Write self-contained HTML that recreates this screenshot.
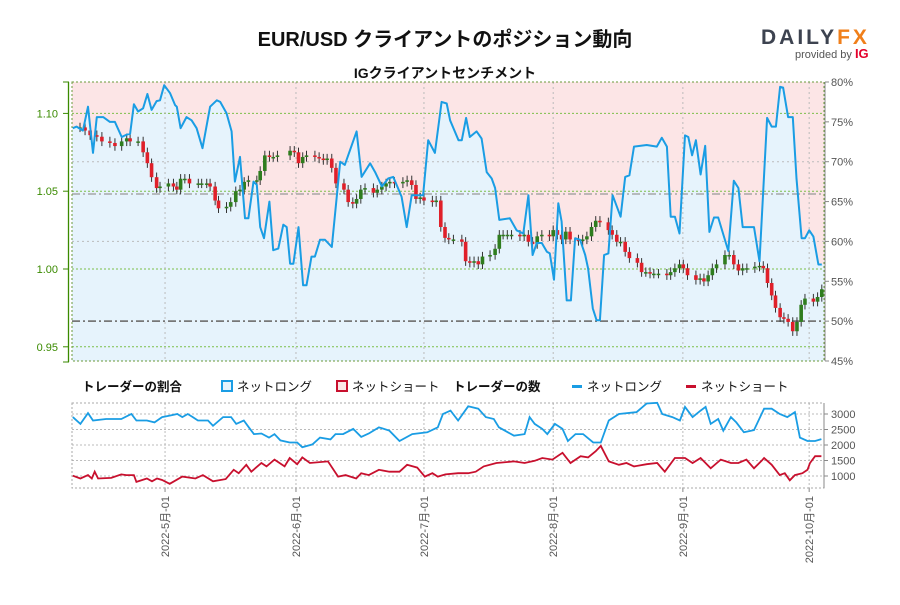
<!DOCTYPE html>
<html><head><meta charset="utf-8">
<style>
body{margin:0;background:#fff;width:900px;height:600px;overflow:hidden;font-family:"Liberation Sans","Noto Sans CJK JP",sans-serif;}
svg text{font-family:"Liberation Sans","Noto Sans CJK JP",sans-serif;}
</style></head>
<body>
<svg id="chart" width="900" height="600" xmlns="http://www.w3.org/2000/svg">
<text x="445" y="46" text-anchor="middle" font-size="20" font-weight="bold" fill="#111">EUR/USD クライアントのポジション動向</text>
<text x="445" y="78" text-anchor="middle" font-size="14" font-weight="bold" fill="#111">IGクライアントセンチメント</text>
<g>
<text x="761" y="44" font-size="21" font-weight="bold" fill="#3d4350" letter-spacing="3">DAILY<tspan fill="#f07f1a">FX</tspan></text>
<text x="795" y="58" font-size="11" fill="#555">provided by <tspan fill="#e4002b" font-weight="bold" font-size="13">IG</tspan></text>
</g>
<g id="main"></g>
<g id="legend" font-size="12.5" fill="#111">
<text x="82" y="391" font-weight="bold">トレーダーの割合</text>
<rect x="222" y="381" width="10" height="10" fill="#e6f3fc" stroke="#1a9de4" stroke-width="2"/>
<text x="237" y="391">ネットロング</text>
<rect x="337" y="381" width="10" height="10" fill="#fbe6e6" stroke="#c8102e" stroke-width="2"/>
<text x="352" y="391">ネットショート</text>
<text x="453" y="391" font-weight="bold">トレーダーの数</text>
<rect x="572" y="385" width="10" height="3" fill="#1a9de4"/>
<text x="587" y="391">ネットロング</text>
<rect x="686" y="385" width="10" height="3" fill="#c8102e"/>
<text x="701" y="391">ネットショート</text>
</g>
<g id="bottom"></g>
</svg>
<script>
// ---- data ----
const sentDays=[0.2,1.1,2.6,3.8,5.0,5.9,7.4,9.0,10.2,11.8,13.0,13.8,14.7,15.7,16.9,17.9,18.9,20.1,20.9,21.9,23.3,24.5,24.9,25.8,27.2,28.4,29.6,31.0,32.8,34.4,35.2,36.7,37.9,38.7,39.9,41.1,41.9,43.1,43.9,44.7,45.6,46.9,47.8,49.0,50.2,51.0,51.8,52.6,53.8,54.9,55.7,56.9,57.7,58.9,60.1,61.7,63.7,64.8,67.6,68.8,70.8,72.0,73.6,75.1,76.3,77.1,78.3,79.5,80.7,82.3,83.4,84.6,86.2,87.8,89.0,89.8,91.8,92.6,93.6,94.5,96.1,97.3,98.5,99.7,100.5,101.5,104.0,105.6,107.2,108.4,109.4,110.4,111.6,112.8,113.5,114.5,115.5,116.3,117.5,118.5,119.5,120.7,121.9,122.6,123.7,124.6,125.4,126.4,127.4,128.4,130.3,131.4,132.4,133.5,136.5,138.9,140.1,141.3,142.2,143.2,144.3,145.6,146.4,147.3,148.2,149.3,150.4,151.4,152.5,153.5,155.9,157.2,158.3,159.3,162.0,163.3,165.1,166.2,167.2,168.2,168.9,170.1,171.2,172.1,173.3,174.1,175.1,176.1,177.3,178.1];
const sentLong=[74.2,74.4,73.9,76.9,71.1,75.6,75.6,75.0,75.0,73.1,73.4,73.5,77.2,76.3,76.7,78.5,76.5,77.6,77.7,79.6,78.6,77.1,76.9,74.2,75.6,75.2,74.2,71.7,76.9,77.7,77.5,76.1,73.8,67.5,70.6,62.9,62.9,67.5,67.1,61.8,60.4,65.0,58.9,59.1,62.1,61.8,57.2,57.2,61.8,54.5,54.5,58.1,58.1,60.2,60.2,59.3,70.0,69.6,73.8,68.1,69.8,68.7,66.9,67.9,68.1,67.1,65.6,61.8,65.8,65.8,65.8,72.7,71.1,77.5,77.3,75.2,72.7,72.7,75.5,73.1,73.8,72.9,68.7,67.9,66.7,62.7,62.9,61.4,61.0,65.8,58.3,59.8,59.8,58.7,58.5,55.2,64.8,62.5,52.6,52.6,60.4,60.2,58.3,56.6,51.6,50.1,50.1,58.3,58.5,65.8,63.1,68.1,68.3,71.9,72.1,71.9,73.0,71.9,63.1,63.1,61.0,73.3,73.1,70.8,72.7,68.4,72.0,61.2,63.0,63.0,58.8,67.6,66.7,61.8,61.8,57.5,75.5,74.4,74.4,79.4,79.3,75.6,75.6,67.9,60.4,60.4,61.4,60.6,57.1,57.1];
const candleDays=[1.9,3.1,4.3,5.9,7.1,9.0,10.2,11.8,13.0,13.8,15.7,16.9,17.9,18.9,20.1,20.9,22.9,24.1,24.9,25.8,26.8,27.9,30.0,30.8,32.0,32.8,34.0,34.8,36.7,37.7,38.9,39.9,40.9,41.9,43.9,44.7,45.8,46.9,47.8,48.8,51.8,52.8,53.8,54.8,55.7,57.7,58.7,59.7,60.6,61.7,62.7,64.6,65.6,66.7,67.6,68.6,69.6,71.6,72.5,73.6,74.6,75.5,76.6,78.6,79.6,80.7,81.7,82.7,83.6,85.6,86.5,87.6,88.6,89.5,90.6,92.6,93.5,94.5,95.5,96.5,97.5,99.3,100.5,101.5,102.4,103.4,104.4,106.4,107.4,108.4,109.4,110.5,111.6,113.4,114.3,115.3,116.3,117.3,118.3,120.3,121.3,122.3,123.4,124.4,125.4,127.4,128.3,129.4,130.3,131.4,132.4,134.3,135.3,136.3,137.3,138.2,139.3,141.3,142.2,143.2,144.3,145.2,146.2,148.2,149.2,150.1,151.1,152.1,153.1,155.1,156.1,157.2,158.3,159.3,160.3,162.2,163.3,164.2,165.2,166.2,167.1,168.2,169.1,170.1,171.2,172.2,173.2,174.1,176.1,177.1,178.1];
const closes=[1.091,1.089,1.086,1.085,1.082,1.081,1.079,1.082,1.084,1.082,1.082,1.075,1.068,1.059,1.052,1.053,1.055,1.053,1.051,1.058,1.058,1.055,1.055,1.055,1.055,1.053,1.044,1.039,1.040,1.043,1.050,1.051,1.056,1.057,1.057,1.063,1.073,1.072,1.072,1.073,1.076,1.075,1.068,1.072,1.073,1.072,1.071,1.070,1.071,1.065,1.055,1.051,1.043,1.042,1.045,1.051,1.052,1.049,1.051,1.053,1.055,1.056,1.055,1.056,1.057,1.054,1.045,1.046,1.044,1.043,1.044,1.027,1.020,1.019,1.019,1.0175,1.005,1.004,1.005,1.003,1.008,1.009,1.013,1.022,1.022,1.022,1.022,1.021,1.022,1.0175,1.016,1.021,1.022,1.021,1.025,1.022,1.019,1.024,1.019,1.018,1.019,1.021,1.027,1.031,1.030,1.025,1.022,1.0175,1.0175,1.011,1.007,1.004,0.998,0.998,0.997,0.997,0.997,0.996,0.998,1.0005,1.003,1.0005,0.996,0.993,0.994,0.992,0.996,1.0005,1.003,1.009,1.009,1.003,0.999,1.0005,1.0005,1.0015,1.002,1.0005,0.991,0.983,0.975,0.969,0.968,0.966,0.960,0.966,0.977,0.981,0.979,0.982,0.987];
const longDays=[0.2,2.0,3.8,5.0,8.1,11.7,14.1,15.3,17.8,19.6,21.4,23.2,25.0,26.2,27.5,28.7,29.9,32.3,33.5,35.9,37.8,39.0,40.8,42.0,43.2,45.0,46.8,48.1,49.5,51.7,53.5,54.7,57.1,58.9,61.4,62.6,64.4,66.8,68.7,70.5,72.9,75.4,77.8,80.8,84.4,86.9,88.1,89.9,91.7,94.1,96.5,98.3,100.2,101.4,105.0,107.5,108.7,109.9,111.7,112.9,114.7,116.5,117.8,119.6,121.4,123.8,125.6,127.5,129.9,134.1,136.5,139.0,140.2,142.6,144.4,145.6,147.4,149.3,150.5,151.7,153.5,154.7,156.5,157.8,159.6,162.0,164.4,166.2,168.1,169.9,171.7,172.9,174.7,176.5,178.0];
const longCounts=[2900,2680,3030,2790,2840,2840,3000,2790,2790,2730,2900,2950,3000,2900,3000,2900,2790,2790,2620,2900,2900,2680,2790,2570,2350,2370,2240,2350,2150,2080,2080,1930,2020,2240,2180,2350,2350,2520,2260,2370,2570,2460,2130,2350,2410,2570,3000,3110,2790,3250,3170,2900,2840,2570,2300,2350,2900,2680,2520,2350,2680,2520,2130,2350,2350,2080,2080,2790,3000,3060,3340,3360,3000,2900,2790,3230,2900,3110,3230,2680,2840,2460,2900,2730,2410,2480,3170,3170,3000,2900,3060,2240,2130,2130,2190];
const shortDays=[0.2,2.0,3.8,4.7,5.4,6.2,9.3,11.7,12.9,14.7,15.3,17.8,19.0,20.2,21.4,23.2,26.2,29.3,31.1,33.5,36.5,38.4,39.6,41.4,42.6,45.0,46.2,48.1,50.5,51.7,53.5,54.7,56.5,60.8,63.2,65.0,67.5,68.7,70.5,72.9,75.4,77.8,79.6,82.0,83.8,85.6,86.9,88.7,91.7,94.1,95.9,97.8,100.8,105.0,107.5,109.9,111.7,114.1,116.5,118.4,120.8,122.6,124.4,125.6,127.5,129.9,131.7,133.5,136.5,139.0,140.8,143.2,145.6,147.4,149.3,151.7,154.1,156.5,158.3,160.2,162.0,163.8,164.4,166.2,168.1,169.3,170.5,171.7,173.5,174.7,175.3,176.5,178.0];
const shortCounts=[1010,920,1030,920,1140,920,940,1050,1030,1030,810,920,830,920,870,750,980,920,1030,830,900,1200,1090,1360,1140,1420,1310,1530,1310,1580,1380,1600,1420,1470,980,1030,920,1090,1030,1200,1140,1140,1360,1270,980,1090,980,1050,1090,1090,1140,1310,1420,1470,1420,1490,1580,1530,1750,1420,1640,1600,1800,1970,1470,1360,1420,1310,1380,1420,1140,1580,1580,1420,1580,1250,1530,1420,1420,1530,1250,1490,1580,1360,1030,1090,860,1030,1090,1200,1420,1640,1640];
const priceTicks=[1.10,1.05,1.00,0.95];
const priceTickLabels=["1.10","1.05","1.00","0.95"];
const pctTicks=[80,75,70,65,60,55,50,45];
const countTicks=[3000,2500,2000,1500,1000];
const monthDays=[22.1,53.2,83.6,114.3,145.1,175.1];
const monthLabels=["2022-5月-01","2022-6月-01","2022-7月-01","2022-8月-01","2022-9月-01","2022-10月-01"];

// ---- scales ----
const X0=72,X1=824,Y0=82,Y1=361;
const xs=d=>X0+d*4.21;
const yPct=p=>Y0+(80-p)*(Y1-Y0)/35;
const yPrice=v=>269-(v-1.00)*1556;
const B0=403,B1=488;
const yCnt=v=>445-(v-2000)*0.031;
const NS="http://www.w3.org/2000/svg";
function mk(tag,attrs,parent){const e=document.createElementNS(NS,tag);for(const k in attrs)e.setAttribute(k,attrs[k]);parent.appendChild(e);return e;}

const main=document.getElementById('main');
let r=mk('rect',{x:X0,y:Y0,width:X1-X0,height:Y1-Y0,fill:'#fce5e6'},main);


let pts=sentDays.map((d,i)=>xs(d).toFixed(1)+','+yPct(sentLong[i]).toFixed(1));
let area=mk('polygon',{points:X0+','+Y1+' '+X0+','+yPct(sentLong[0]).toFixed(1)+' '+pts.join(' ')+' '+X1+','+yPct(sentLong[sentLong.length-1]).toFixed(1)+' '+X1+','+Y1,fill:'#e6f3fc'},main);


// grids
pctTicks.forEach(p=>{if(p===70||p===60){let g=mk('line',{x1:X0,x2:X1,y1:yPct(p),y2:yPct(p),stroke:'#bbb','stroke-dasharray':'2,3'},main);

}});
priceTicks.forEach(p=>{let g=mk('line',{x1:X0,x2:X1,y1:yPrice(p),y2:yPrice(p),stroke:'#7cbf4a','stroke-dasharray':'2,2'},main);

});
monthDays.forEach(d=>{let g=mk('line',{x1:xs(d),x2:xs(d),y1:Y0,y2:Y1,stroke:'#bbb','stroke-dasharray':'2,3'},main);

});
let rl=mk('line',{x1:X0,x2:X1,y1:194,y2:194,stroke:'#999','stroke-dasharray':'8,3,2,3','stroke-width':1.3},main);


let fl=mk('line',{x1:X0,x2:X1,y1:yPct(50),y2:yPct(50),stroke:'#777','stroke-dasharray':'8,3,2,3','stroke-width':1.8},main);


// border
let bd=mk('rect',{x:X0,y:Y0,width:X1-X0,height:Y1-Y0,fill:'none',stroke:'#6a9a3a','stroke-dasharray':'2,2'},main);


// candles
closes.forEach((c,i)=>{const o=i===0?c:closes[i-1];const x=xs(candleDays[i]);const hi=Math.max(o,c)+0.003,lo=Math.min(o,c)-0.003;
const up=c>=o;const g=mk('g',{},main);


mk('line',{x1:x,x2:x,y1:yPrice(hi),y2:yPrice(lo),stroke:'#333','stroke-width':1},g);
const t=yPrice(Math.max(o,c)),b=yPrice(Math.min(o,c));
mk('rect',{x:x-1.8,y:t,width:3.6,height:Math.max(1.5,b-t),fill:up?'#2f7d1e':'#e0202a'},g);});
// sentiment line
let sl=mk('polyline',{points:pts.join(' '),fill:'none',stroke:'#1a9de4','stroke-width':2,'stroke-linejoin':'round'},main);


// left axis
let la=mk('line',{x1:68.5,x2:68.5,y1:Y0,y2:362,stroke:'#3a8a00','stroke-width':1.3},main);


mk('line',{x1:63,x2:69,y1:Y0,y2:Y0,stroke:'#3a8a00'},main);
mk('line',{x1:63,x2:69,y1:362,y2:362,stroke:'#3a8a00'},main);
priceTicks.forEach((p,i)=>{mk('line',{x1:63,x2:69,y1:yPrice(p),y2:yPrice(p),stroke:'#3a8a00'},main);
let t=mk('text',{x:58,y:yPrice(p)+4,'text-anchor':'end','font-size':11,fill:'#3a8a00'},main);t.textContent=priceTickLabels[i];

});
// right axis
let ra=mk('line',{x1:X1+1,x2:X1+1,y1:Y0,y2:Y1,stroke:'#888'},main);


pctTicks.forEach(p=>{mk('line',{x1:X1+1,x2:X1+5,y1:yPct(p),y2:yPct(p),stroke:'#888'},main);
let t=mk('text',{x:X1+7,y:yPct(p)+4,'font-size':11,fill:'#555'},main);t.textContent=p+'%';

});

// bottom chart
const bot=document.getElementById('bottom');
countTicks.forEach(v=>{let g=mk('line',{x1:X0,x2:X1,y1:yCnt(v),y2:yCnt(v),stroke:'#bbb','stroke-dasharray':'2,2'},bot);


mk('line',{x1:X1,x2:X1+4,y1:yCnt(v),y2:yCnt(v),stroke:'#888'},bot);
let t=mk('text',{x:X1+7,y:yCnt(v)+4,'font-size':11,fill:'#555'},bot);t.textContent=v;

});
monthDays.forEach((d,i)=>{let g=mk('line',{x1:xs(d),x2:xs(d),y1:B0,y2:B1,stroke:'#bbb','stroke-dasharray':'2,2'},bot);


mk('line',{x1:xs(d),x2:xs(d),y1:B1,y2:B1+4,stroke:'#888'},bot);
let t=mk('text',{x:0,y:0,'font-size':11,fill:'#555','text-anchor':'end',transform:`translate(${xs(d)+4},${B1+8}) rotate(-90)`},bot);t.textContent=monthLabels[i];

});
let bb=mk('rect',{x:X0,y:B0,width:X1-X0,height:B1-B0,fill:'none',stroke:'#aaa','stroke-dasharray':'2,2'},bot);


let bra=mk('line',{x1:X1,x2:X1,y1:B0,y2:B1,stroke:'#888'},bot);


let ll=mk('polyline',{points:longDays.map((d,i)=>xs(d).toFixed(1)+','+yCnt(longCounts[i]).toFixed(1)).join(' '),fill:'none',stroke:'#1a9de4','stroke-width':1.8},bot);


let sh=mk('polyline',{points:shortDays.map((d,i)=>xs(d).toFixed(1)+','+yCnt(shortCounts[i]).toFixed(1)).join(' '),fill:'none',stroke:'#c8102e','stroke-width':1.8},bot);


</script>
</body></html>
